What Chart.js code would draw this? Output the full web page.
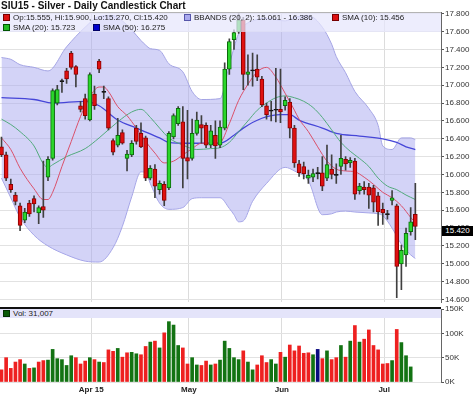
<!DOCTYPE html>
<html>
<head>
<meta charset="utf-8">
<title>SIU15 - Silver - Daily Candlestick Chart</title>
<script src="https://cdn.jsdelivr.net/npm/chart.js@4.4.1/dist/chart.umd.min.js"></script>
<style>
  body { margin: 0; background: #fff; }
  #wrap { position: relative; width: 474px; height: 396px; overflow: hidden;
          font-family: "Liberation Sans", Arial, sans-serif; color: #222; }
  #wrap canvas { position: absolute; left: 0; }
  #title { position: absolute; left: 1px; top: 0; font-size: 10px; font-weight: bold; line-height: 12px; color: #111; }
  #topline { position: absolute; left: 0; top: 12px; width: 441px; height: 1px; background: #b4b4b4; }
  #legend { position: absolute; left: 0; top: 13px; width: 441px; height: 19px; background: rgba(230, 230, 252, 0.72); }
  .it { position: absolute; font-size: 8px; line-height: 9px; white-space: nowrap; color: #222; }
  .sq { display: inline-block; width: 5px; height: 5px; border: 1px solid; margin-right: 3px; vertical-align: -1px; }
  #sep { position: absolute; left: 0; top: 307px; width: 441px; height: 2px; background: #111; }
  #volhead { position: absolute; left: 0; top: 309px; width: 441px; height: 9px; background: #e4e4fa; }
  #last { position: absolute; left: 442px; top: 226px; width: 31px; height: 10px; background: #000; color: #fff;
          font-size: 8px; line-height: 10px; text-align: center; }
</style>
</head>
<body>
<div id="wrap">
  <canvas id="price" width="474" height="308" style="top:0"></canvas>
  <canvas id="vol" width="474" height="100" style="top:296px"></canvas>
  <div id="title">SIU15 - Silver - Daily Candlestick Chart</div>
  <div id="topline"></div>
  <div id="legend">
    <div class="it" style="left:3px;top:0px"><span class="sq" style="background:#dd1111;border-color:#770000"></span>Op:15.555, Hi:15.900, Lo:15.270, Cl:15.420</div>
    <div class="it" style="left:184px;top:0px"><span class="sq" style="background:#aaaaee;border-color:#5555aa"></span>BBANDS (20, 2): 15.061 - 16.386</div>
    <div class="it" style="left:332px;top:0px"><span class="sq" style="background:#dd1111;border-color:#770000"></span>SMA (10): 15.456</div>
    <div class="it" style="left:3px;top:10px"><span class="sq" style="background:#22bb22;border-color:#005500"></span>SMA (20): 15.723</div>
    <div class="it" style="left:93px;top:10px"><span class="sq" style="background:#0000cc;border-color:#000066"></span>SMA (50): 16.275</div>
  </div>
  <div id="sep"></div>
  <div id="volhead">
    <div class="it" style="left:3px;top:0px"><span class="sq" style="background:#0a5a0a;border-color:#033003"></span>Vol: 31,007</div>
  </div>
  <div id="last">15.420</div>
</div>

<script>
// daily bars, index 0 = first bar on the left, index 89 = last bar (no volume yet)
var openP = [
  16.31, 16.22, 15.89, 15.77, 15.65, 15.49, 15.68, 15.73, 15.57, 15.64,
  15.97, 16.18, 16.80, 17.04, 17.16, 17.36, 17.21, 16.77, 16.85, 16.61,
  16.90, 17.27, 16.92, 16.85, 16.38, 16.33, 16.47, 16.18, 16.22, 16.52,
  16.46, 16.41, 15.96, 16.06, 15.83, 15.89, 15.85, 16.42, 16.57, 16.59,
  16.19, 16.18, 16.46, 16.56, 16.55, 16.33, 16.44, 16.33, 16.52, 17.18,
  17.51, 17.60, 17.73, 17.12, 17.16, 17.18, 17.07, 16.77, 16.71, 16.72,
  16.73, 16.77, 16.81, 16.52, 16.12, 16.09, 15.96, 15.97, 16.01, 16.02,
  15.96, 16.06, 15.99, 16.09, 16.17, 16.13, 16.15, 15.82, 15.86, 15.86,
  15.85, 15.76, 15.61, 15.55, 15.71, 15.65, 15.00, 15.10, 15.36, 15.555
];
var highP = [
  16.42, 16.25, 15.95, 15.80, 15.68, 15.62, 15.71, 15.76, 15.65, 16.15,
  16.20, 16.96, 17.00, 17.07, 17.19, 17.38, 17.22, 16.82, 16.90, 17.14,
  16.99, 17.29, 16.99, 16.87, 16.40, 16.63, 16.50, 16.27, 16.38, 16.55,
  16.58, 16.43, 16.10, 16.11, 15.93, 15.92, 16.48, 16.68, 16.76, 16.76,
  16.72, 16.62, 16.70, 16.66, 16.58, 16.55, 16.60, 16.60, 17.25, 17.52,
  17.62, 17.80, 17.76, 17.34, 17.36, 17.34, 17.10, 16.80, 16.82, 17.19,
  17.18, 16.87, 16.85, 16.55, 16.16, 16.14, 16.05, 16.06, 16.08, 16.20,
  16.33, 16.22, 16.12, 16.44, 16.20, 16.19, 16.18, 15.90, 15.92, 15.90,
  15.88, 15.80, 15.68, 15.60, 15.82, 15.67, 15.21, 15.40, 15.63, 15.90
];
var lowP = [
  16.20, 15.93, 15.80, 15.66, 15.37, 15.46, 15.53, 15.58, 15.45, 15.52,
  15.93, 16.16, 16.78, 16.92, 17.02, 17.18, 16.98, 16.70, 16.62, 16.60,
  16.73, 17.14, 16.85, 16.50, 16.22, 16.31, 16.34, 16.04, 16.20, 16.34,
  16.30, 15.93, 15.94, 15.74, 15.78, 15.65, 15.83, 16.40, 16.55, 15.85,
  15.95, 16.16, 16.44, 16.35, 16.30, 16.30, 16.18, 16.30, 16.50, 17.12,
  17.40, 17.58, 16.95, 17.00, 16.99, 17.05, 16.76, 16.62, 16.60, 16.59,
  16.58, 16.72, 16.41, 16.08, 15.98, 15.95, 15.90, 15.92, 15.95, 15.82,
  15.93, 15.95, 15.90, 16.00, 16.05, 16.08, 15.72, 15.78, 15.78, 15.62,
  15.58, 15.43, 15.44, 15.50, 15.66, 14.62, 14.71, 14.97, 15.32, 15.27
];
var closeP = [
  16.22, 15.96, 15.83, 15.70, 15.43, 15.58, 15.56, 15.67, 15.63, 15.60,
  16.17, 16.94, 16.95, 17.04, 17.07, 17.20, 17.12, 16.73, 16.66, 17.12,
  16.77, 17.18, 16.92, 16.52, 16.25, 16.44, 16.35, 16.23, 16.35, 16.37,
  16.31, 15.96, 16.07, 15.87, 15.90, 15.71, 16.46, 16.66, 16.74, 16.18,
  16.15, 16.46, 16.61, 16.52, 16.33, 16.49, 16.32, 16.53, 17.18, 17.49,
  17.59, 17.73, 17.12, 17.15, 17.16, 17.09, 16.78, 16.67, 16.71, 16.72,
  16.70, 16.83, 16.52, 16.13, 16.02, 16.01, 15.99, 16.01, 16.01, 15.87,
  16.11, 16.00, 15.99, 16.18, 16.12, 16.16, 15.78, 15.87, 15.83, 15.77,
  15.69, 15.58, 15.57, 15.55, 15.74, 14.97, 15.15, 15.34, 15.47, 15.42
];
// volume in thousands
var volume = [
  25, 50, 28, 41, 46, 37, 28, 29, 41, 44,
  45, 67, 48, 46, 34, 54, 50, 37, 43, 50,
  46, 41, 40, 66, 63, 69, 51, 60, 61, 58,
  56, 73, 82, 84, 70, 101, 124, 117, 75, 70,
  37, 50, 35, 34, 43, 35, 37, 45, 84, 69,
  50, 46, 64, 41, 25, 35, 54, 40, 46, 37,
  61, 51, 76, 64, 74, 59, 60, 56, 67, 48,
  64, 46, 50, 75, 51, 84, 116, 82, 88, 107,
  75, 66, 37, 38, 44, 108, 81, 54, 31
];

// indicator lines as [bar index, value]
var sma10 = [[0,16.41],[2,16.28],[4,16.07],[7,15.84],[9,15.72],[10,15.72],[11,15.80],[13,16.09],[15,16.37],
  [17,16.65],[19,16.87],[21,16.98],[22,16.98],[23,16.93],[25,16.76],[27,16.66],[29,16.52],[31,16.37],[33,16.24],
  [35,16.13],[37,16.15],[39,16.22],[41,16.29],[43,16.35],[45,16.35],[47,16.36],[49,16.57],[51,16.83],[53,17.01],
  [55,17.15],[57,17.20],[59,17.09],[61,16.91],[63,16.72],[64,16.62],[66,16.48],[68,16.31],[70,16.15],[72,16.06],
  [74,16.04],[76,16.03],[78,15.97],[80,15.89],[82,15.80],[84,15.74],[86,15.65],[88,15.52],[89,15.46]];
var sma20 = [[0,16.62],[2,16.56],[4,16.48],[7,16.32],[9,16.12],[10,16.08],[11,16.11],[14,16.20],[18,16.29],
  [21,16.41],[25,16.59],[28,16.70],[30,16.73],[32,16.64],[34,16.52],[36,16.41],[39,16.33],[42,16.28],[45,16.29],
  [47,16.30],[49,16.36],[51,16.48],[53,16.60],[55,16.72],[57,16.80],[59,16.86],[61,16.88],[63,16.86],[65,16.82],
  [67,16.75],[69,16.64],[71,16.50],[73,16.36],[75,16.26],[77,16.18],[79,16.09],[81,15.96],[83,15.87],[85,15.83],
  [87,15.77],[89,15.72]];
var sma50 = [[0,16.86],[7,16.84],[11,16.80],[18,16.82],[21,16.77],[25,16.61],[29,16.52],[34,16.41],[36,16.36],
  [40,16.35],[47,16.35],[50,16.44],[52,16.52],[56,16.63],[60,16.67],[62,16.67],[64,16.61],[69,16.52],[72,16.46],
  [77,16.43],[82,16.40],[85,16.36],[87,16.31],[89,16.28]];
var bbIdx   = [0, 2, 4, 7, 10, 14, 18, 21, 24, 26, 28, 30, 31, 32, 34, 36, 39, 41, 43, 47, 49, 50, 51, 52, 54,
  57, 61, 63, 66, 69, 71, 72, 74, 76, 79, 81, 82, 84, 86, 88, 89];
var bbUpper = [17.31, 17.29, 17.23, 17.20, 17.16, 17.43, 17.65, 17.77, 17.78, 17.72, 17.62, 17.50, 17.45, 17.41,
  17.39, 17.24, 17.15, 16.93, 16.84, 16.85, 17.23, 17.42, 17.58, 17.66, 17.72, 17.75, 17.72, 17.76, 17.78, 17.65,
  17.46, 17.32, 17.14, 16.93, 16.74, 16.55, 16.32, 16.28, 16.41, 16.41, 16.39];
var bbLower = [15.96, 15.74, 15.52, 15.32, 15.20, 15.10, 15.03, 15.02, 15.18, 15.42, 15.75, 16.03, 16.02, 15.90,
  15.68, 15.61, 15.63, 15.73, 15.74, 15.74, 15.62, 15.55, 15.47, 15.48, 15.70, 15.90, 16.08, 16.04, 15.93, 15.55,
  15.56, 15.58, 15.59, 15.58, 15.57, 15.56, 15.54, 15.40, 15.22, 15.10, 15.06];

var monthStart = [20, 41, 61, 83];
var monthLabels = ['Apr 15', 'May', 'Jun', 'Jul'];
var priceTicks = [14.6, 14.8, 15.0, 15.2, 15.4, 15.6, 15.8, 16.0, 16.2, 16.4, 16.6, 16.8, 17.0, 17.2, 17.4, 17.6, 17.8];
var volTicks = [0, 50, 100, 150];

var UP = '#2bd62b', UP_LINE = '#0b6b0b';
var DOWN = '#e01010', DOWN_LINE = '#8a0000';
var DOJI = '#111111';
var FONT = 'Liberation Sans';
var X_MIN = -0.32, X_MAX = 94.52;

function pairs(list) {
    return list.map(function (p) { return {x: p[0], y: p[1]}; });
}
function bandPoints(values) {
    return values.map(function (v, i) { return {x: bbIdx[i], y: v}; });
}
function monthTicks(scale) {
    scale.ticks = monthStart.map(function (m) { return {value: m - 0.7}; });
}

var idx = openP.map(function (v, i) { return i; });
var wickData = idx.map(function (i) { return {x: i, y: [lowP[i], highP[i]]}; });
var bodyData = idx.map(function (i) { return {x: i, y: [openP[i], closeP[i]]}; });
var bodyFill = idx.map(function (i) {
    return closeP[i] > openP[i] ? UP : (closeP[i] < openP[i] ? DOWN : DOJI);
});
var bodyLine = idx.map(function (i) {
    return closeP[i] > openP[i] ? UP_LINE : (closeP[i] < openP[i] ? DOWN_LINE : DOJI);
});

var volData = volume.map(function (v, i) { return {x: i, y: v}; });
var volColor = volume.map(function (v, i) {
    if (i === 0 || closeP[i] < closeP[i - 1]) return '#ee2020';
    if (closeP[i] > closeP[i - 1]) return '#137313';
    return '#0a0a80';
});

var common = {
    responsive: false,
    animation: false,
    events: [],
    plugins: {legend: {display: false}, tooltip: {enabled: false}, title: {display: false}}
};

new Chart(document.getElementById('price'), {
    type: 'bar',
    data: {
        datasets: [
            {type: 'bar', data: bodyData, backgroundColor: bodyFill, borderColor: bodyLine, borderWidth: 1,
             borderSkipped: false, barThickness: 4, minBarLength: 1, grouped: false, order: 0},
            {type: 'bar', data: wickData, backgroundColor: '#404040', barThickness: 1, grouped: false, order: 1},
            {type: 'line', data: pairs(sma10), borderColor: '#d9506a', borderWidth: 1, pointRadius: 0,
             cubicInterpolationMode: 'monotone', order: 2},
            {type: 'line', data: pairs(sma20), borderColor: '#52aa7c', borderWidth: 1, pointRadius: 0,
             cubicInterpolationMode: 'monotone', order: 3},
            {type: 'line', data: pairs(sma50), borderColor: '#4646d8', borderWidth: 1.3, pointRadius: 0,
             cubicInterpolationMode: 'monotone', order: 4},
            {type: 'line', data: bandPoints(bbUpper), borderColor: '#a4a4e4', borderWidth: 1, pointRadius: 0,
             cubicInterpolationMode: 'monotone', fill: '+1', backgroundColor: 'rgba(170,170,240,0.52)', order: 5},
            {type: 'line', data: bandPoints(bbLower), borderColor: '#a4a4e4', borderWidth: 1, pointRadius: 0,
             cubicInterpolationMode: 'monotone', fill: false, order: 6}
        ]
    },
    options: Object.assign({}, common, {
        layout: {padding: {top: 12, bottom: 2, left: 0, right: 0}},
        scales: {
            x: {
                type: 'linear', min: X_MIN, max: X_MAX, offset: false,
                afterBuildTicks: monthTicks,
                afterFit: function (s) { s.height = 0; },
                ticks: {display: false},
                grid: {color: '#dcdcdc', drawTicks: false, offset: false},
                border: {display: false}
            },
            y: {
                position: 'right', min: 14.57, max: 17.82,
                afterBuildTicks: function (s) { s.ticks = priceTicks.map(function (v) { return {value: v}; }); },
                afterFit: function (s) { s.width = 33; },
                ticks: {
                    autoSkip: false, padding: 1, color: '#333',
                    font: {family: FONT, size: 8},
                    callback: function (v) { return Number(v).toFixed(3); }
                },
                grid: {color: '#e2e2e2', tickLength: 3, tickColor: '#555'},
                border: {display: true, color: '#666', width: 1}
            }
        }
    })
});

new Chart(document.getElementById('vol'), {
    type: 'bar',
    data: {
        datasets: [
            {data: volData, backgroundColor: volColor, barThickness: 3, grouped: false}
        ]
    },
    options: Object.assign({}, common, {
        layout: {padding: {top: 13, bottom: 0, left: 0, right: 0}},
        scales: {
            x: {
                type: 'linear', min: X_MIN, max: X_MAX, offset: false,
                afterBuildTicks: monthTicks,
                afterFit: function (s) { s.height = 14; },
                ticks: {
                    autoSkip: false, maxRotation: 0, padding: 3, color: '#222',
                    font: {family: FONT, size: 8, weight: 'bold'},
                    callback: function (v, i) { return monthLabels[i]; }
                },
                grid: {color: '#dcdcdc', drawTicks: false, offset: false},
                border: {display: false}
            },
            y: {
                position: 'right', min: 0, max: 150,
                afterBuildTicks: function (s) { s.ticks = volTicks.map(function (v) { return {value: v}; }); },
                afterFit: function (s) { s.width = 33; },
                ticks: {
                    autoSkip: false, padding: 1, color: '#333',
                    font: {family: FONT, size: 8},
                    callback: function (v) { return v + 'K'; }
                },
                grid: {color: '#e2e2e2', tickLength: 3, tickColor: '#555'},
                border: {display: true, color: '#666', width: 1}
            }
        }
    })
});
</script>
</body>
</html>
